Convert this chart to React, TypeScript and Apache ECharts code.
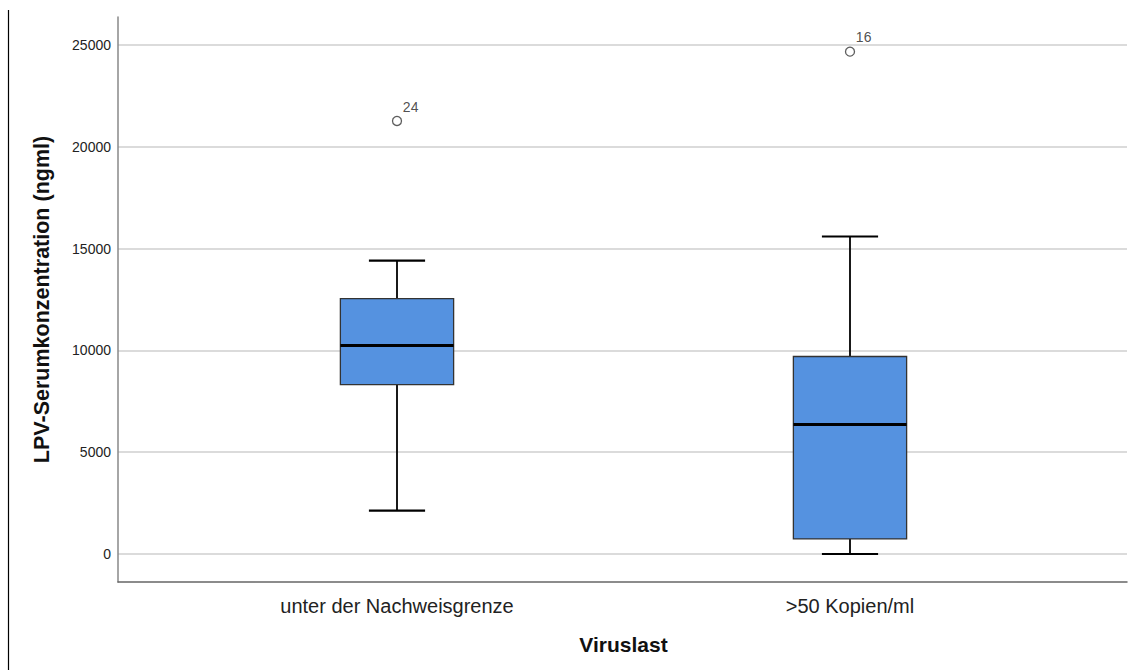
import React, { useEffect, useRef } from "react";
import * as echarts from "echarts";

const categories = ["unter der Nachweisgrenze", ">50 Kopien/ml"];
const whiskerLow = [2130, 0];
const q1 = [8310, 740];
const median = [10230, 6350];
const q3 = [12530, 9690];
const whiskerHigh = [14400, 15580];
const outlierCategory = [0, 1];
const outlierValue = [21250, 24650];
const outlierLabel = ["24", "16"];
const yTicks = [0, 5000, 10000, 15000, 20000, 25000];

const FONT = "'Liberation Sans', Arial, sans-serif";

export default function App() {
  const ref = useRef<HTMLDivElement>(null);
  useEffect(() => {
    if (!ref.current) return;
    const chart = echarts.init(ref.current, null, { renderer: "svg" });
    const boxData = categories.map((_, i) => [i, whiskerLow[i], q1[i], median[i], q3[i], whiskerHigh[i]]);
    const outData = outlierCategory.map((c, i) => ({ value: [c, outlierValue[i]], label: outlierLabel[i] }));
    const option: any = {
      animation: false,
      backgroundColor: "#fff",
      textStyle: { fontFamily: FONT },
      graphic: [
        { type: "line", shape: { x1: 8.5, y1: 10, x2: 8.5, y2: 670 }, style: { stroke: "#000", lineWidth: 1.2 } },
      ],
      grid: [
        { left: 118, right: 6, top: 17, bottom: 88 },
        { left: 118, right: 6, top: 45, bottom: 116 },
        { left: 170.5, right: 56.5, top: 17, bottom: 88 },
      ],
      xAxis: [
        {
          gridIndex: 0, type: "value", min: 0, max: 1,
          axisLine: { show: true, onZero: false, lineStyle: { color: "#666", width: 1.5 } },
          axisTick: { show: false }, axisLabel: { show: false }, splitLine: { show: false },
        },
        {
          gridIndex: 1, type: "value", min: 0, max: 1, show: false,
        },
        {
          gridIndex: 2, type: "category", data: categories,
          axisLine: { show: false, onZero: false }, axisTick: { show: false }, splitLine: { show: false },
          axisLabel: { fontSize: 20, color: "#222", margin: 14, fontFamily: FONT },
          name: "Viruslast", nameLocation: "middle", nameGap: 52,
          nameTextStyle: { fontSize: 21, fontWeight: "bold", color: "#111", fontFamily: FONT },
        },
      ],
      yAxis: [
        {
          gridIndex: 0, type: "value", min: -1375, max: 26350,
          axisLine: { show: true, onZero: false, lineStyle: { color: "#888", width: 1.5 } },
          axisTick: { show: false }, axisLabel: { show: false }, splitLine: { show: false },
        },
        {
          gridIndex: 1, type: "value", min: yTicks[0], max: yTicks[yTicks.length - 1], interval: 5000,
          axisLine: { show: false }, axisTick: { show: false },
          axisLabel: { fontSize: 14, color: "#222", margin: 7, fontFamily: FONT, formatter: (v: number) => String(v) },
          splitLine: { show: true, lineStyle: { color: "#cfcfcf", width: 1.5 } },
          name: "LPV-Serumkonzentration (ngml)", nameLocation: "middle", nameGap: 65, nameRotate: 90,
          nameTextStyle: { fontSize: 21.5, fontWeight: "bold", color: "#111", fontFamily: FONT },
        },
        {
          gridIndex: 2, type: "value", min: -1375, max: 26350, show: false,
        },
      ],
      series: [
        {
          type: "custom",
          xAxisIndex: 2, yAxisIndex: 2,
          data: boxData,
          renderItem: (params: any, api: any) => {
            const c = api.value(0);
            const band = api.size([1, 0])[0];
            const bw = band * 0.25;
            const cw = band * 0.124;
            const pLow = api.coord([c, api.value(1)]);
            const pQ1 = api.coord([c, api.value(2)]);
            const pMed = api.coord([c, api.value(3)]);
            const pQ3 = api.coord([c, api.value(4)]);
            const pHigh = api.coord([c, api.value(5)]);
            const x = pQ1[0];
            const ls = { stroke: "#000", lineWidth: 1.8 };
            return {
              type: "group",
              children: [
                { type: "line", shape: { x1: x, y1: pHigh[1], x2: x, y2: pQ3[1] }, style: ls },
                { type: "line", shape: { x1: x, y1: pQ1[1], x2: x, y2: pLow[1] }, style: ls },
                { type: "line", shape: { x1: x - cw / 2, y1: pHigh[1], x2: x + cw / 2, y2: pHigh[1] }, style: { stroke: "#000", lineWidth: 2.2 } },
                { type: "line", shape: { x1: x - cw / 2, y1: pLow[1], x2: x + cw / 2, y2: pLow[1] }, style: { stroke: "#000", lineWidth: 2.2 } },
                {
                  type: "rect",
                  shape: { x: x - bw / 2, y: pQ3[1], width: bw, height: pQ1[1] - pQ3[1] },
                  style: { fill: "#5592e0", stroke: "#333", lineWidth: 1.3 },
                },
                { type: "line", shape: { x1: x - bw / 2, y1: pMed[1], x2: x + bw / 2, y2: pMed[1] }, style: { stroke: "#000", lineWidth: 3 } },
              ],
            };
          },
          z: 3,
        },
        {
          type: "scatter",
          xAxisIndex: 2, yAxisIndex: 2,
          data: outData,
          symbol: "circle",
          symbolSize: 9,
          itemStyle: { color: "#fff", borderColor: "#333", borderWidth: 1.3 },
          label: {
            show: true,
            formatter: (p: any) => p.data.label,
            position: [11, -16],
            fontSize: 14,
            color: "#222",
            fontFamily: FONT,
          },
          z: 4,
        },
      ],
    };
    chart.setOption(option);
    return () => chart.dispose();
  }, []);
  return (
    <div
      ref={ref}
      style={{ position: "absolute", left: 0, top: 0, width: 1133, height: 670, background: "#fff" }}
    />
  );
}
